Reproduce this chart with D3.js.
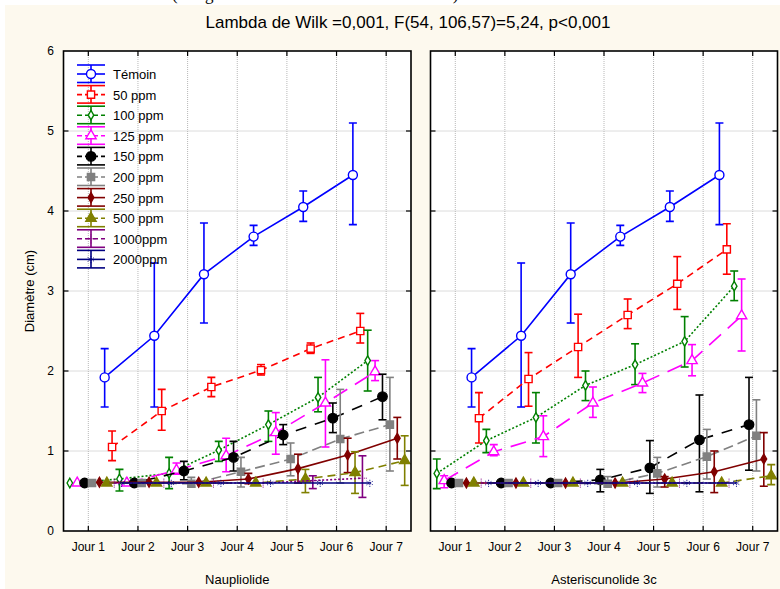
<!DOCTYPE html>
<html>
<head>
<meta charset="utf-8">
<script src="https://cdn.jsdelivr.net/npm/d3@7"></script>
<style>
  body { margin: 0; background: #fff; }
  svg { display: block; }
  svg text { font-family: "Liberation Sans", Arial, sans-serif; fill: #000; }
</style>
</head>
<body>
<script>
// categories
const days = ["Jour 1", "Jour 2", "Jour 3", "Jour 4", "Jour 5", "Jour 6", "Jour 7"];
const doses = ["Témoin", "50 ppm", "100 ppm", "125 ppm", "150 ppm", "200 ppm", "250 ppm", "500 ppm", "1000ppm", "2000ppm"];
const panels = ["Naupliolide", "Asteriscunolide 3c"];
const yTicks = [0, 1, 2, 3, 4, 5, 6];
const N = null; // point falls outside the panel, not drawn

// Naupliolide : means, lower and upper limits (one row per dose)
const naupMean = [
  [N, 1.92, 2.44, 3.21, 3.68, 4.05, 4.45],
  [N, 1.05, 1.50, 1.80, 2.01, 2.28, 2.50],
  [0.60, 0.65, 0.72, 1.01, 1.33, 1.67, 2.13],
  [0.60, 0.60, 0.76, 0.94, 1.23, 1.60, 1.99],
  [0.60, 0.60, 0.75, 0.92, 1.20, 1.41, 1.68],
  [0.60, 0.60, 0.59, 0.74, 0.90, 1.15, 1.33],
  [0.61, 0.61, 0.61, 0.65, 0.78, 0.95, 1.16],
  [0.60, 0.60, 0.60, 0.60, 0.65, 0.73, 0.88],
  [0.60, 0.60, 0.60, 0.60, 0.63, 0.66, N],
  [0.60, 0.60, 0.60, 0.60, 0.60, 0.60, N]
];
const naupLow = [
  [N, 1.55, 1.55, 2.60, 3.57, 3.87, 3.83],
  [N, 0.88, 1.26, 1.68, 1.95, 2.22, 2.35],
  [0.60, 0.50, 0.53, 0.87, 1.12, 1.49, 1.75],
  [0.60, 0.60, 0.71, 0.74, 0.96, 1.05, 1.88],
  [0.60, 0.60, 0.64, 0.75, 1.08, 1.23, 1.39],
  [0.60, 0.60, 0.55, 0.55, 0.69, 0.60, 0.75],
  [0.61, 0.61, 0.61, 0.59, 0.60, 0.73, 0.90],
  [0.60, 0.60, 0.60, 0.60, 0.48, 0.47, 0.57],
  [0.60, 0.60, 0.60, 0.60, 0.53, 0.42, N],
  [0.60, 0.60, 0.60, 0.60, 0.60, 0.60, N]
];
const naupHigh = [
  [N, 2.28, 3.35, 3.85, 3.82, 4.25, 5.10],
  [N, 1.25, 1.77, 1.92, 2.08, 2.35, 2.72],
  [0.60, 0.77, 0.92, 1.12, 1.50, 1.92, 2.51],
  [0.60, 0.60, 0.85, 1.16, 1.48, 2.14, 2.13],
  [0.60, 0.60, 0.87, 1.12, 1.33, 1.60, 1.96],
  [0.60, 0.60, 0.67, 0.92, 1.10, 1.77, 1.92],
  [0.61, 0.61, 0.61, 0.72, 0.96, 1.16, 1.42],
  [0.60, 0.60, 0.60, 0.60, 0.77, 0.99, 1.19],
  [0.60, 0.60, 0.60, 0.60, 0.69, 0.94, N],
  [0.60, 0.60, 0.60, 0.60, 0.60, 0.60, N]
];

// Asteriscunolide 3c
const asterMean = [
  [N, 1.92, 2.44, 3.21, 3.68, 4.05, 4.45],
  [N, 1.41, 1.90, 2.30, 2.70, 3.09, 3.52],
  [0.72, 1.13, 1.42, 1.82, 2.08, 2.37, 3.06],
  [0.63, 0.99, 1.18, 1.60, 1.85, 2.13, 2.69],
  [0.60, 0.60, 0.60, 0.64, 0.79, 1.14, 1.33],
  [0.60, 0.60, 0.60, 0.59, 0.72, 0.93, 1.19],
  [0.60, 0.60, 0.60, 0.60, 0.65, 0.74, 0.90],
  [0.60, 0.60, 0.60, 0.60, 0.60, 0.60, 0.69],
  [0.60, 0.60, 0.60, 0.60, 0.60, 0.60, N],
  [0.60, 0.60, 0.60, 0.60, 0.60, 0.60, N]
];
const asterLow = [
  [N, 1.55, 1.55, 2.60, 3.57, 3.87, 3.83],
  [N, 1.10, 1.56, 1.92, 2.53, 2.77, 3.21],
  [0.53, 0.98, 1.10, 1.63, 1.83, 2.05, 2.88],
  [0.54, 0.94, 0.93, 1.42, 1.73, 1.94, 2.25],
  [0.60, 0.60, 0.60, 0.49, 0.47, 0.49, 0.76],
  [0.60, 0.60, 0.60, 0.55, 0.55, 0.65, 0.75],
  [0.60, 0.60, 0.60, 0.60, 0.55, 0.48, 0.56],
  [0.60, 0.60, 0.60, 0.60, 0.60, 0.60, 0.58],
  [0.60, 0.60, 0.60, 0.60, 0.60, 0.60, N],
  [0.60, 0.60, 0.60, 0.60, 0.60, 0.60, N]
];
const asterHigh = [
  [N, 2.28, 3.35, 3.85, 3.82, 4.25, 5.10],
  [N, 1.73, 2.23, 2.71, 2.90, 3.43, 3.84],
  [0.90, 1.27, 1.73, 2.00, 2.34, 2.68, 3.25],
  [0.69, 1.08, 1.44, 1.80, 1.97, 2.33, 3.15],
  [0.60, 0.60, 0.60, 0.77, 1.13, 1.70, 1.92],
  [0.60, 0.60, 0.60, 0.68, 0.92, 1.27, 1.64],
  [0.60, 0.60, 0.60, 0.60, 0.68, 1.00, 1.23],
  [0.60, 0.60, 0.60, 0.60, 0.60, 0.60, 0.83],
  [0.60, 0.60, 0.60, 0.60, 0.60, 0.60, N],
  [0.60, 0.60, 0.60, 0.60, 0.60, 0.60, N]
];

const panelData = [
  { mean: naupMean, low: naupLow, high: naupHigh },
  { mean: asterMean, low: asterLow, high: asterHigh }
];

// styles per dose
const colors = ["#0000ff", "#ff0000", "#008000", "#ff00ff", "#000000", "#808080", "#800000", "#808000", "#800080", "#000080"];
const dashes = [null, "7,5", "2,2", "16,9", "11,9", "10,5", null, "8,5", "2,2", null];
const symbols = [d3.symbolCircle, d3.symbolSquare, d3.symbolDiamond, d3.symbolTriangle, d3.symbolCircle,
                 d3.symbolSquare, d3.symbolDiamond, d3.symbolTriangle, d3.symbolPlus, d3.symbolAsterisk];
const symSize = [64, 52, 26, 46, 70, 52, 28, 46, 30, 40];
const filled = [false, false, false, false, true, true, true, true, false, false];

const width = 780, height = 589;
const plotTop = 51, plotBottom = 531;
const panelRange = [[63.5, 411], [430.5, 777.5]];

const svg = d3.select("body").append("svg")
    .attr("width", width)
    .attr("height", height);

svg.append("rect").attr("width", width).attr("height", height).attr("fill", "#fff");

// caption line cut off at the very top of the picture (only descenders show)
svg.append("text")
    .attr("x", 172).attr("y", -0.5)
    .style("font-family", "'Liberation Serif', serif")
    .style("font-size", "17px")
    .text("(Longueur des racines selon le traitement)");
svg.append("rect").attr("x", 5).attr("y", 5).attr("width", width - 5).attr("height", height - 5).attr("fill", "#fdf9ee");

svg.append("text")
    .attr("x", 408).attr("y", 28)
    .attr("text-anchor", "middle")
    .style("font-size", "17px")
    .text("Lambda de Wilk =0,001, F(54, 106,57)=5,24, p<0,001");

const y = d3.scaleLinear().domain([0, 6]).range([plotBottom, plotTop]);
const off = d3.scalePoint().domain(doses).range([-33.3, 33.3]);

// y axis title
svg.append("text")
    .attr("transform", `translate(34, ${(plotTop + plotBottom) / 2}) rotate(-90)`)
    .attr("text-anchor", "middle")
    .style("font-size", "13px")
    .text("Diamètre (cm)");

panels.forEach((name, p) => {
  const [x0, x1] = panelRange[p];
  const x = d3.scalePoint().domain(days).range([x0, x1]).padding(0.5);
  const g = svg.append("g");

  g.append("clipPath").attr("id", "clip" + p)
    .append("rect").attr("x", x0).attr("y", plotTop).attr("width", x1 - x0).attr("height", plotBottom - plotTop);

  g.append("rect")
      .attr("x", x0).attr("y", plotTop).attr("width", x1 - x0).attr("height", plotBottom - plotTop)
      .attr("fill", "#fff");

  // grid
  g.selectAll(".vgrid").data(days).enter().append("line")
      .attr("x1", d => x(d)).attr("x2", d => x(d))
      .attr("y1", plotTop).attr("y2", plotBottom)
      .attr("stroke", "#b8b8b8").attr("stroke-dasharray", "1,1");
  g.selectAll(".hgrid").data(yTicks.slice(1, -1)).enter().append("line")
      .attr("x1", x0).attr("x2", x1)
      .attr("y1", d => y(d)).attr("y2", d => y(d))
      .attr("stroke", "#b8b8b8").attr("stroke-dasharray", "1,1");

  // series
  const data = panelData[p];
  const plot = g.append("g").attr("clip-path", `url(#clip${p})`);
  doses.forEach((dose, s) => {
    const pts = days.map((day, i) => ({
      x: x(day) + off(dose), v: data.mean[s][i], lo: data.low[s][i], hi: data.high[s][i]
    })).filter(d => d.v != null);

    const line = d3.line().x(d => d.x).y(d => y(d.v));
    plot.append("path")
        .attr("d", line(pts))
        .attr("fill", "none")
        .attr("stroke", colors[s])
        .attr("stroke-width", 1.6)
        .attr("stroke-dasharray", dashes[s]);

    const bars = pts.filter(d => d.hi - d.lo > 0.02);
    const eb = plot.append("g").attr("stroke", colors[s]).attr("stroke-width", 1.6);
    eb.selectAll(".v").data(bars).enter().append("line")
        .attr("x1", d => d.x).attr("x2", d => d.x)
        .attr("y1", d => y(d.lo)).attr("y2", d => y(d.hi));
    eb.selectAll(".lo").data(bars).enter().append("line")
        .attr("x1", d => d.x - 4).attr("x2", d => d.x + 4)
        .attr("y1", d => y(d.lo)).attr("y2", d => y(d.lo));
    eb.selectAll(".hi").data(bars).enter().append("line")
        .attr("x1", d => d.x - 4).attr("x2", d => d.x + 4)
        .attr("y1", d => y(d.hi)).attr("y2", d => y(d.hi));

    const sym = d3.symbol().type(symbols[s]).size(symSize[s]);
    plot.selectAll(null).data(pts).enter().append("path")
        .attr("d", sym)
        .attr("transform", d => `translate(${d.x},${y(d.v)})`)
        .attr("fill", filled[s] ? colors[s] : "#fff")
        .attr("fill-opacity", s >= 8 ? 0 : 1)
        .attr("stroke", colors[s])
        .attr("stroke-width", s >= 8 ? 1 : 1.4)
        .attr("stroke-dasharray", s >= 8 ? "1,1" : null);
  });

  // frame and inward ticks
  g.append("rect")
      .attr("x", x0).attr("y", plotTop).attr("width", x1 - x0).attr("height", plotBottom - plotTop)
      .attr("fill", "none").attr("stroke", "#000").attr("stroke-width", 1.6);

  const tk = g.append("g").attr("stroke", "#000").attr("stroke-width", 1.2);
  days.forEach(d => {
    tk.append("line").attr("x1", x(d)).attr("x2", x(d)).attr("y1", plotBottom).attr("y2", plotBottom - 5);
    tk.append("line").attr("x1", x(d)).attr("x2", x(d)).attr("y1", plotTop).attr("y2", plotTop + 5);
  });
  yTicks.slice(1, -1).forEach(v => {
    tk.append("line").attr("x1", x0).attr("x2", x0 + 5).attr("y1", y(v)).attr("y2", y(v));
    tk.append("line").attr("x1", x1).attr("x2", x1 - 5).attr("y1", y(v)).attr("y2", y(v));
  });

  g.selectAll(".xl").data(days).enter().append("text")
      .attr("x", d => x(d)).attr("y", 551)
      .attr("text-anchor", "middle")
      .style("font-size", "12px")
      .text(d => d);

  g.append("text")
      .attr("x", (x0 + x1) / 2).attr("y", 584)
      .attr("text-anchor", "middle")
      .style("font-size", "13px")
      .text(name);

  if (p === 0) {
    g.selectAll(".yl").data(yTicks).enter().append("text")
        .attr("x", 54).attr("y", d => y(d) + 4)
        .attr("text-anchor", "end")
        .style("font-size", "12px")
        .text(d => d);

    // legend
    const leg = g.append("g");
    doses.forEach((dose, s) => {
      const cy = 74 + s * 20.6, cx = 91;
      const row = leg.append("g").attr("stroke", colors[s]).attr("stroke-width", 1.6);
      row.append("line").attr("x1", 77).attr("x2", 105).attr("y1", cy - 9).attr("y2", cy - 9);
      row.append("line").attr("x1", 77).attr("x2", 105).attr("y1", cy + 8.5).attr("y2", cy + 8.5);
      row.append("line").attr("x1", cx).attr("x2", cx).attr("y1", cy - 9).attr("y2", cy + 8.5);
      row.append("line").attr("x1", 77).attr("x2", 105).attr("y1", cy).attr("y2", cy)
          .attr("stroke-dasharray", dashes[s] ? "5,3" : null);
      row.append("path")
          .attr("d", d3.symbol().type(symbols[s]).size(symSize[s]))
          .attr("transform", `translate(${cx},${cy})`)
          .attr("fill", filled[s] ? colors[s] : "#fff")
          .attr("fill-opacity", s >= 8 ? 0 : 1)
          .attr("stroke-width", s >= 8 ? 1 : 1.4)
          .attr("stroke-dasharray", s >= 8 ? "1,1" : null);
      leg.append("text")
          .attr("x", 113).attr("y", cy + 5)
          .style("font-size", "13px")
          .text(dose);
    });
  }
});
</script>
</body>
</html>
